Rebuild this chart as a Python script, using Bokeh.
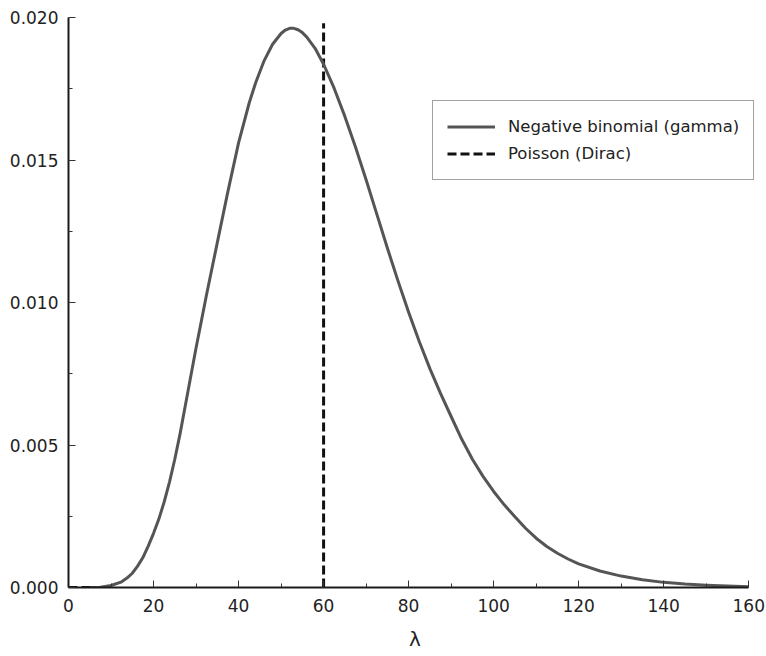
from bokeh.plotting import figure
from bokeh.models import FixedTicker, PrintfTickFormatter, Legend, LegendItem, Range1d
from bokeh.embed import file_html
from bokeh.resources import INLINE

# ---- data ----
lam = [5, 7.5, 10, 12.5, 13.75, 15, 16.25, 17.5, 18.75, 20, 21.25, 22.5, 23.75,
       25, 26.25, 27.5, 28.75, 30, 32.5, 35, 37.5, 40, 42.5, 44, 46, 48, 50,
       51, 52, 53, 54, 55, 56, 58, 60, 62.5, 65, 67.5, 70, 72.5, 75, 77.5, 80,
       82.5, 85, 87.5, 90, 92.5, 95, 97.5, 100, 102.5, 105, 107.5, 110, 112.5,
       115, 117.5, 120, 125, 130, 135, 140, 145, 150, 155, 160]
gamma_density = [0.0, 0.00001, 0.00007, 0.0002, 0.00033, 0.0005, 0.00075, 0.00105,
                 0.00145, 0.0019, 0.0024, 0.0030, 0.0037,
                 0.0045, 0.0054, 0.0064, 0.0074, 0.0084, 0.0103, 0.0121, 0.0139,
                 0.0156, 0.0170, 0.0177, 0.01848, 0.01906, 0.01944,
                 0.01956, 0.01962, 0.01962, 0.01957, 0.01947, 0.01932, 0.01892,
                 0.01836, 0.01751, 0.01653, 0.01546, 0.01431, 0.01311, 0.01191,
                 0.01076, 0.00966, 0.00863, 0.00768, 0.00681, 0.0060, 0.0052,
                 0.0045, 0.0039, 0.00337, 0.0029, 0.00248, 0.00208, 0.00173,
                 0.00144, 0.0012, 0.001, 0.00083, 0.00058,
                 0.00040, 0.00027, 0.00018, 0.00012, 0.00008, 0.00005, 0.00003]
poisson_x = [0, 5.5, float("nan"), 60, 60]
poisson_y = [0, 0, float("nan"), 0, 0.0198]

x_major = [0, 20, 40, 60, 80, 100, 120, 140, 160]
x_minor = [10, 30, 50, 70, 90, 110, 130, 150]
y_major = [0.000, 0.005, 0.010, 0.015, 0.020]
y_minor = [0.0025, 0.0075, 0.0125, 0.0175]

p = figure(frame_width=693, frame_height=570,
           x_range=Range1d(0, 163), y_range=Range1d(0, 0.020),
           output_backend="svg", toolbar_location=None,
           min_border_left=68, min_border_top=17, min_border_right=5,
           min_border_bottom=69, background_fill_color="white",
           border_fill_color="white", outline_line_color=None)
p.grid.visible = False

r_pois = p.line(poisson_x, poisson_y, line_color="#111111", line_width=3,
                line_dash="9 4")
r_gam = p.line(lam, gamma_density, line_color="#555555", line_width=3,
               line_join="round")

for ax, major, minor in ((p.xaxis[0], x_major, x_minor), (p.yaxis[0], y_major, y_minor)):
    ax.ticker = FixedTicker(ticks=major, minor_ticks=minor)
    ax.axis_line_color = "#1a1a1a"
    ax.axis_line_width = 2
    ax.major_tick_in = 7
    ax.major_tick_out = 0
    ax.minor_tick_in = 4
    ax.minor_tick_out = 0
    ax.major_tick_line_color = "#333333"
    ax.minor_tick_line_color = "#333333"
    ax.major_label_text_font = "DejaVu Sans"
    ax.major_label_text_font_size = "17px"
    ax.major_label_text_color = "#222222"

p.xaxis[0].bounds = (0, 160)
p.yaxis[0].formatter = PrintfTickFormatter(format="%.3f")
p.yaxis[0].major_label_standoff = 10
p.xaxis[0].formatter = PrintfTickFormatter(format="%d")
p.xaxis[0].major_label_standoff = 11
p.xaxis[0].axis_label = "λ"
p.xaxis[0].axis_label_text_font = "DejaVu Sans"
p.xaxis[0].axis_label_text_font_size = "20px"
p.xaxis[0].axis_label_text_font_style = "normal"
p.xaxis[0].axis_label_text_color = "#222222"
p.xaxis[0].axis_label_standoff = 12

legend = Legend(items=[LegendItem(label="Negative binomial (gamma)", renderers=[r_gam]),
                       LegendItem(label="Poisson (Dirac)", renderers=[r_pois])],
                location=(364, 407), padding=14, spacing=4, margin=0,
                glyph_width=48, glyph_height=23, label_height=23, label_standoff=13,
                label_text_font="DejaVu Sans", label_text_font_size="16.5px",
                label_text_color="#222222", border_line_color="#444444",
                border_line_width=1, background_fill_color="white",
                background_fill_alpha=1.0)
p.add_layout(legend)

open("out.html", "w").write(file_html(p, INLINE))
